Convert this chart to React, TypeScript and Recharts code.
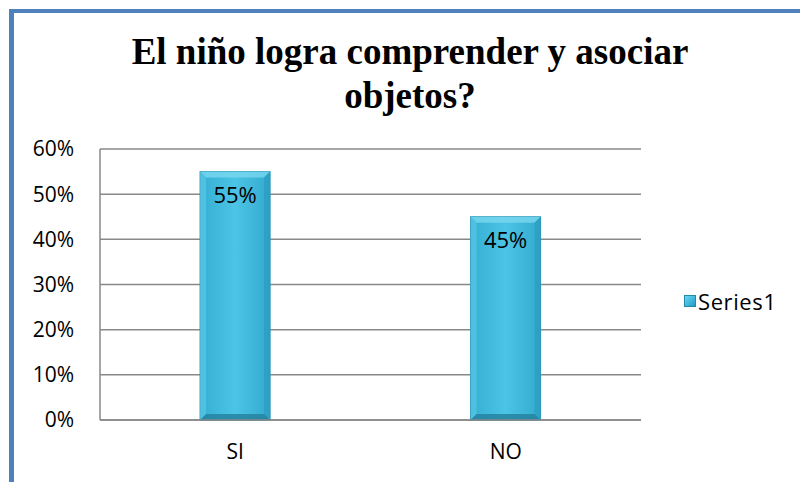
import React from 'react';
import { BarChart, Bar, XAxis, YAxis, CartesianGrid, LabelList } from 'recharts';

const categories = ['SI', 'NO'];
const series1 = [55, 45];
const yTicks = [0, 10, 20, 30, 40, 50, 60];
const seriesName = 'Series1';

const data = categories.map((c, i) => ({ name: c, Series1: series1[i] }));

const FONT = '"Open Sans", Lato, sans-serif';

const BevelBar = (props: any) => {
  const { x, y, width, height } = props;
  if (!height || height <= 0) return null;
  const b = 6;
  return (
    <g>
      <rect x={x} y={y} width={width} height={height} fill="url(#barFill)" stroke="#2b93b3" strokeWidth={1} />
      <polygon points={`${x},${y} ${x + width},${y} ${x + width - b},${y + b} ${x + b},${y + b}`} fill="#7ad8f0" opacity={0.8} />
      <polygon points={`${x},${y} ${x + b},${y + b} ${x + b},${y + height - b} ${x},${y + height}`} fill="#5fcbea" opacity={0.6} />
      <polygon points={`${x + width},${y} ${x + width},${y + height} ${x + width - b},${y + height - b} ${x + width - b},${y + b}`} fill="#2a9cc0" opacity={0.7} />
      <polygon points={`${x},${y + height} ${x + b},${y + height - b} ${x + width - b},${y + height - b} ${x + width},${y + height}`} fill="#23809c" opacity={0.8} />
    </g>
  );
};

export default function App() {
  return (
    <div style={{ position: 'absolute', left: 0, top: 0, width: 800, height: 482, background: '#fff', overflow: 'hidden' }}>
      <div style={{ position: 'absolute', left: 9, top: 9, right: 0, bottom: 0, borderLeft: '5px solid #4f81bd', borderTop: '4px solid #4f81bd' }} />
      <div
        style={{
          position: 'absolute',
          left: 20,
          width: 780,
          top: 30,
          textAlign: 'center',
          fontFamily: '"Liberation Serif", "Times New Roman", serif',
          fontWeight: 'bold',
          fontSize: 37,
          lineHeight: '44px',
          color: '#000',
        }}
      >
        El niño logra comprender y asociar
        <br />
        objetos?
      </div>
      <div style={{ position: 'absolute', left: 0, top: 0 }}>
        <BarChart width={800} height={482} data={data} margin={{ top: 149, right: 159, left: 0, bottom: 32 }} barCategoryGap="37%">
          <defs>
            <linearGradient id="barFill" x1="0" y1="0" x2="1" y2="0">
              <stop offset="0%" stopColor="#34aed2" />
              <stop offset="50%" stopColor="#4cc4e6" />
              <stop offset="100%" stopColor="#33aacd" />
            </linearGradient>
          </defs>
          <CartesianGrid vertical={false} stroke="#888" strokeWidth={1.5} />
          <XAxis
            dataKey="name"
            height={30}
            axisLine={{ stroke: '#888', strokeWidth: 1.5 }}
            tickLine={false}
            tickSize={0}
            tickMargin={24}
            tick={{ fill: '#000', fontSize: 21, fontFamily: FONT }}
          />
          <YAxis
            width={100}
            domain={[0, 60]}
            ticks={yTicks}
            tickFormatter={(v: number) => `${v}%`}
            axisLine={{ stroke: '#888', strokeWidth: 1.5 }}
            tickLine={false}
            tickSize={0}
            tickMargin={26}
            tick={{ fill: '#000', fontSize: 21, fontFamily: FONT }}
          />
          <Bar dataKey="Series1" name={seriesName} shape={<BevelBar />} isAnimationActive={false}>
            <LabelList
              dataKey="Series1"
              position="insideTop"
              offset={16}
              formatter={(v: any) => `${v}%`}
              style={{ fill: '#000', fontSize: 22, fontFamily: FONT }}
            />
          </Bar>
        </BarChart>
      </div>
      <div
        style={{
          position: 'absolute',
          left: 684,
          top: 287,
          display: 'flex',
          alignItems: 'center',
          fontFamily: FONT,
          fontSize: 22,
          letterSpacing: 0.6,
          lineHeight: '28px',
          color: '#000',
          whiteSpace: 'nowrap',
        }}
      >
        <span
          style={{
            display: 'inline-block',
            width: 10,
            height: 10,
            background: 'linear-gradient(135deg,#6fd6f2,#3cb6da 60%,#2a97bb)',
            border: '1px solid #2488a8',
            marginRight: 2,
          }}
        />
        <span>{seriesName}</span>
      </div>
    </div>
  );
}
